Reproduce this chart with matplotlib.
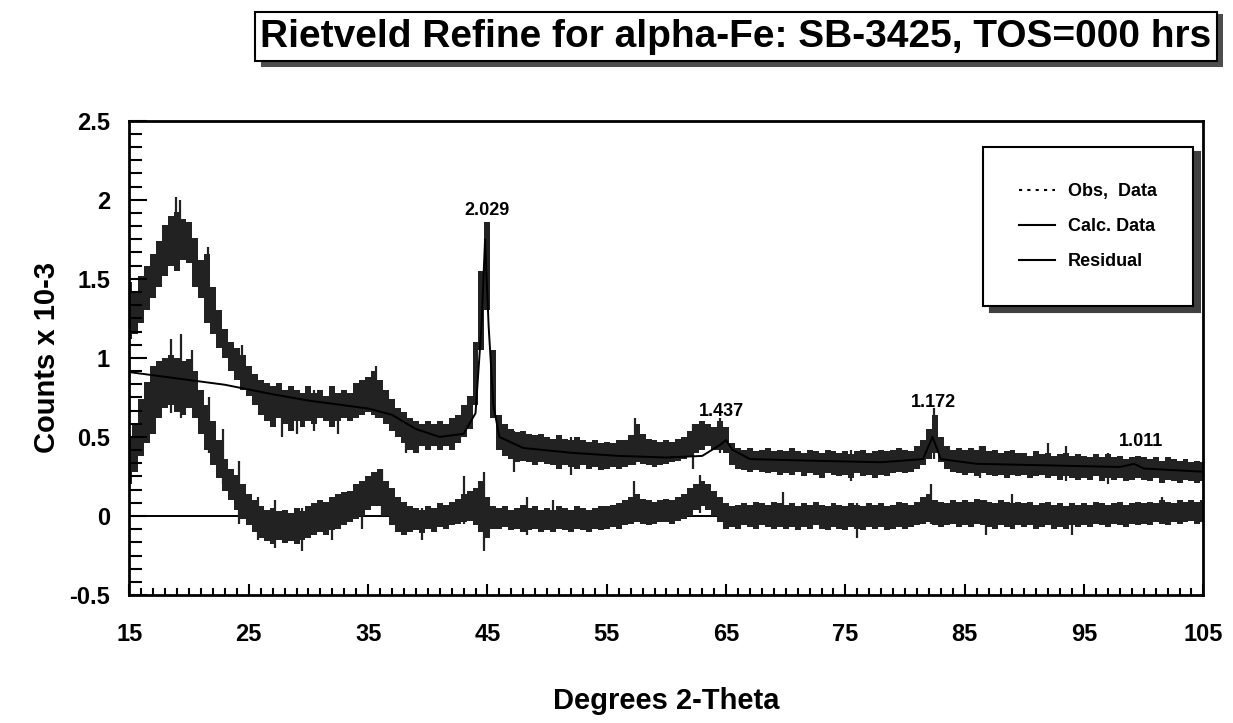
import numpy as np
import matplotlib
matplotlib.use("Agg")
import matplotlib.pyplot as plt
from matplotlib.patches import Rectangle
from matplotlib.lines import Line2D
from matplotlib.ticker import MultipleLocator

plt.rcParams['font.family'] = ['Liberation Sans', 'DejaVu Sans']

# ---------------- data ----------------
two_theta = np.arange(15.0, 105.01, 0.5)

obs_hi = [1.48, 1.42, 1.52, 1.58, 1.66, 1.74, 1.84, 1.90, 1.92, 1.88,
          1.86, 1.76, 1.62, 1.66, 1.45, 1.30, 1.18, 1.10, 1.06, 1.02,
          0.95, 0.90, 0.86, 0.84, 0.82, 0.84, 0.80, 0.82, 0.80, 0.78,
          0.82, 0.78, 0.80, 0.76, 0.82, 0.78, 0.80, 0.78, 0.84, 0.86,
          0.88, 0.92, 0.86, 0.80, 0.74, 0.68, 0.66, 0.62, 0.60, 0.58,
          0.60, 0.58, 0.60, 0.58, 0.62, 0.64, 0.70, 0.76, 1.10, 1.55,
          1.86, 1.05, 0.64, 0.58, 0.55, 0.53, 0.54, 0.52, 0.51, 0.52,
          0.50, 0.49, 0.51, 0.49, 0.48, 0.50, 0.48, 0.47, 0.48, 0.46,
          0.47, 0.46, 0.48, 0.48, 0.51, 0.58, 0.52, 0.49, 0.48, 0.47,
          0.48, 0.47, 0.49, 0.50, 0.54, 0.58, 0.60, 0.58, 0.56, 0.60,
          0.56, 0.46, 0.43, 0.42, 0.43, 0.41, 0.42, 0.43, 0.41, 0.42,
          0.41, 0.43, 0.41, 0.40, 0.42, 0.41, 0.40, 0.42, 0.41, 0.40,
          0.41, 0.39, 0.41, 0.42, 0.40, 0.41, 0.42, 0.41, 0.42, 0.43,
          0.42, 0.41, 0.44, 0.48, 0.55, 0.64, 0.50, 0.44, 0.42, 0.43,
          0.42, 0.43, 0.42, 0.44, 0.41, 0.42, 0.40, 0.41, 0.42, 0.40,
          0.40, 0.38, 0.41, 0.39, 0.40, 0.38, 0.39, 0.40, 0.38, 0.39,
          0.38, 0.37, 0.39, 0.37, 0.39, 0.37, 0.38, 0.36, 0.37, 0.38,
          0.37, 0.36, 0.37, 0.35, 0.37, 0.36, 0.35, 0.36, 0.34, 0.35,
          0.34]

obs_lo = [1.12, 1.15, 1.22, 1.30, 1.38, 1.45, 1.52, 1.58, 1.55, 1.62,
          1.60, 1.45, 1.38, 1.22, 1.15, 1.06, 1.00, 0.92, 0.86, 0.80,
          0.76, 0.70, 0.64, 0.60, 0.56, 0.62, 0.58, 0.54, 0.60, 0.56,
          0.60, 0.58, 0.62, 0.60, 0.56, 0.60, 0.62, 0.60, 0.62, 0.64,
          0.66, 0.64, 0.62, 0.58, 0.54, 0.50, 0.46, 0.42, 0.40, 0.44,
          0.42, 0.44, 0.42, 0.44, 0.42, 0.46, 0.50, 0.55, 0.70, 1.05,
          1.30, 0.62, 0.42, 0.38, 0.36, 0.34, 0.35, 0.34, 0.32, 0.34,
          0.33, 0.32, 0.30, 0.32, 0.31, 0.30, 0.32, 0.30, 0.31, 0.29,
          0.30, 0.31, 0.30, 0.31, 0.32, 0.34, 0.33, 0.32, 0.31, 0.32,
          0.33, 0.34, 0.35, 0.36, 0.38, 0.40, 0.42, 0.44, 0.42, 0.42,
          0.40, 0.32, 0.30, 0.29, 0.28, 0.29, 0.28, 0.27, 0.28, 0.26,
          0.27, 0.26, 0.28, 0.25, 0.27, 0.26, 0.24, 0.27, 0.26, 0.25,
          0.26, 0.24, 0.27, 0.25, 0.26, 0.24, 0.26, 0.25, 0.27, 0.28,
          0.27, 0.28, 0.30, 0.32, 0.36, 0.40, 0.34, 0.30, 0.28, 0.27,
          0.26, 0.27, 0.25, 0.27, 0.26, 0.25, 0.26, 0.24, 0.26, 0.25,
          0.26, 0.24, 0.25, 0.26, 0.24, 0.25, 0.23, 0.25, 0.24, 0.23,
          0.24, 0.23, 0.25, 0.22, 0.24, 0.23, 0.24, 0.22, 0.23, 0.24,
          0.23, 0.22, 0.24, 0.21, 0.23, 0.22, 0.21, 0.23, 0.22, 0.21,
          0.22]

res_hi = [0.50, 0.58, 0.74, 0.85, 0.95, 0.98, 1.00, 1.02, 1.00, 0.98,
          0.99, 0.92, 0.80, 0.70, 0.60, 0.48, 0.36, 0.30, 0.26, 0.20,
          0.14, 0.10, 0.06, 0.04, 0.05, 0.03, 0.04, 0.02, 0.05, 0.03,
          0.06, 0.08, 0.10, 0.09, 0.12, 0.14, 0.15, 0.16, 0.20, 0.22,
          0.25, 0.28, 0.30, 0.22, 0.18, 0.12, 0.09, 0.06, 0.05, 0.04,
          0.06, 0.05, 0.08, 0.07, 0.09, 0.11, 0.14, 0.16, 0.18, 0.22,
          0.12, 0.06, 0.05, 0.06, 0.04, 0.05, 0.07, 0.05, 0.06, 0.04,
          0.05, 0.04, 0.06, 0.05, 0.04, 0.06, 0.05, 0.04, 0.05, 0.06,
          0.06, 0.07, 0.08, 0.10, 0.12, 0.14, 0.11, 0.10, 0.09, 0.10,
          0.11, 0.10, 0.12, 0.14, 0.18, 0.20, 0.22, 0.20, 0.16, 0.12,
          0.08, 0.06, 0.07, 0.08, 0.07, 0.09, 0.08, 0.07, 0.09, 0.08,
          0.07, 0.08, 0.06, 0.08, 0.07, 0.09, 0.07, 0.06, 0.08, 0.07,
          0.06, 0.08, 0.07, 0.06, 0.08, 0.07, 0.08, 0.06, 0.07, 0.09,
          0.08, 0.07, 0.09, 0.12, 0.14, 0.10, 0.09, 0.08, 0.10, 0.09,
          0.10, 0.09, 0.11, 0.10, 0.09, 0.08, 0.10, 0.09, 0.08, 0.09,
          0.08, 0.09, 0.07, 0.08, 0.09, 0.07, 0.08, 0.06, 0.08, 0.07,
          0.08, 0.07, 0.09, 0.08, 0.07, 0.08, 0.09, 0.07, 0.08, 0.09,
          0.08, 0.09, 0.08, 0.10, 0.09, 0.08, 0.10, 0.09, 0.10, 0.09,
          0.10]

res_lo = [0.20, 0.28, 0.38, 0.46, 0.52, 0.62, 0.68, 0.70, 0.66, 0.64,
          0.68, 0.62, 0.52, 0.42, 0.32, 0.24, 0.16, 0.10, 0.04, -0.02,
          -0.06, -0.10, -0.14, -0.16, -0.18, -0.15, -0.17, -0.16, -0.18, -0.15,
          -0.14, -0.12, -0.10, -0.12, -0.09, -0.08, -0.06, -0.04, -0.02, 0.00,
          0.04, 0.06, 0.06, 0.00, -0.06, -0.10, -0.12, -0.10, -0.09, -0.11,
          -0.08, -0.10, -0.07, -0.08, -0.06, -0.05, -0.04, -0.03, -0.06, -0.10,
          -0.14, -0.08, -0.08, -0.07, -0.09, -0.08, -0.10, -0.09, -0.08, -0.10,
          -0.09, -0.10, -0.08, -0.09, -0.10, -0.08, -0.09, -0.10, -0.08, -0.09,
          -0.08, -0.07, -0.08, -0.06, -0.05, -0.04, -0.05, -0.06, -0.05, -0.04,
          -0.04, -0.05, -0.03, -0.02, 0.00, 0.04, 0.06, 0.04, 0.00, -0.04,
          -0.08, -0.07, -0.08, -0.06, -0.07, -0.08, -0.06, -0.07, -0.08, -0.07,
          -0.08, -0.07, -0.09, -0.07, -0.08, -0.06, -0.08, -0.09, -0.07, -0.08,
          -0.09, -0.07, -0.08, -0.09, -0.07, -0.08, -0.07, -0.09, -0.08, -0.07,
          -0.08, -0.07, -0.06, -0.05, -0.04, -0.06, -0.07, -0.06, -0.05, -0.07,
          -0.06, -0.07, -0.05, -0.06, -0.07, -0.08, -0.06, -0.07, -0.08, -0.06,
          -0.07, -0.06, -0.08, -0.07, -0.06, -0.08, -0.07, -0.08, -0.06, -0.07,
          -0.06, -0.07, -0.05, -0.06, -0.07, -0.05, -0.06, -0.07, -0.05, -0.06,
          -0.05, -0.06, -0.04, -0.05, -0.06, -0.04, -0.05, -0.04, -0.03, -0.05,
          -0.04]

# calculated profile (background + Bragg peaks)
calc_x = [15, 17, 19, 21, 23, 25, 27, 30, 33, 35, 37, 39, 41, 43, 44, 44.5,
          44.8, 45.1, 45.5, 46, 48, 52, 56, 60, 63, 64.5, 65, 65.5, 67, 72,
          78, 81.5, 82.3, 83, 86, 92, 98, 99.2, 100, 105]
calc_y = [0.91, 0.89, 0.87, 0.85, 0.83, 0.80, 0.77, 0.73, 0.70, 0.68, 0.64,
          0.55, 0.50, 0.52, 0.65, 1.20, 1.75, 1.20, 0.70, 0.50, 0.43, 0.40,
          0.38, 0.37, 0.38, 0.45, 0.48, 0.42, 0.36, 0.35, 0.34, 0.36, 0.50,
          0.36, 0.33, 0.32, 0.31, 0.33, 0.30, 0.28]

# prominent noise spikes (x, low, high)
obs_spike_x = [18.9, 19.2, 21.6, 24.4, 27.8, 29.0, 30.5, 32.5, 35.7, 38.2,
               47.2, 52.0, 57.4, 62.2, 64.5, 75.5, 82.4, 86.3, 92.0, 93.5, 97.0]
obs_spike_lo = [1.70, 1.75, 1.40, 0.85, 0.50, 0.52, 0.54, 0.52, 0.62, 0.40,
                0.28, 0.26, 0.32, 0.30, 0.40, 0.22, 0.36, 0.24, 0.24, 0.22, 0.20]
obs_spike_hi = [2.02, 2.00, 1.70, 1.08, 0.80, 0.76, 0.80, 0.78, 0.95, 0.62,
                0.54, 0.50, 0.62, 0.58, 0.62, 0.42, 0.68, 0.44, 0.46, 0.44, 0.40]

res_spike_x = [18.5, 19.3, 20.2, 21.7, 22.8, 24.2, 25.8, 27.2, 29.5, 32.0,
               34.5, 36.2, 39.5, 43.0, 44.7, 48.3, 50.5, 57.3, 62.8, 69.8,
               76.0, 82.2, 86.8, 89.0, 94.0, 101.5]
res_spike_lo = [0.65, 0.62, 0.70, 0.40, 0.20, -0.05, -0.15, -0.20, -0.22, -0.15,
                -0.08, 0.00, -0.15, -0.05, -0.22, -0.12, -0.10, -0.02, 0.02, -0.05,
                -0.14, -0.05, -0.12, -0.08, -0.12, -0.05]
res_spike_hi = [1.12, 1.15, 1.05, 0.75, 0.55, 0.35, 0.12, 0.10, 0.05, 0.12,
                0.22, 0.30, 0.05, 0.25, 0.28, 0.12, 0.10, 0.22, 0.26, 0.15,
                0.08, 0.20, 0.10, 0.14, 0.08, 0.12]

# d-spacing labels
peak_labels = ["2.029", "1.437", "1.172", "1.011"]
peak_label_x = [45.0, 64.6, 82.4, 99.8]
peak_label_y = [1.93, 0.66, 0.72, 0.47]

x_ticks = [15, 25, 35, 45, 55, 65, 75, 85, 95, 105]
y_ticks = [-0.5, 0, 0.5, 1, 1.5, 2, 2.5]
y_tick_labels = ["-0.5", "0", "0.5", "1", "1.5", "2", "2.5"]

# ---------------- figure ----------------
fig = plt.figure(figsize=(12.33, 7.23), dpi=100)
ax = fig.add_axes([0.105, 0.177, 0.871, 0.656])

band_col = '#222222'
ax.fill_between(two_theta, obs_lo, obs_hi, step='mid', color=band_col, lw=0)
ax.fill_between(two_theta, res_lo, res_hi, step='mid', color=band_col, lw=0)
ax.vlines(obs_spike_x, obs_spike_lo, obs_spike_hi, color=band_col, lw=1.6)
ax.vlines(res_spike_x, res_spike_lo, res_spike_hi, color=band_col, lw=1.6)
ax.plot(calc_x, calc_y, color='black', lw=1.4)
ax.axhline(0, color='black', lw=1.4, zorder=0)

for t, px, py in zip(peak_labels, peak_label_x, peak_label_y):
    ax.text(px, py, t, ha='center', va='center', fontsize=13, fontweight='bold')

ax.set_xlim(15, 105)
ax.set_ylim(-0.5, 2.5)
ax.set_xticks(x_ticks)
ax.set_yticks(y_ticks)
ax.set_yticklabels(y_tick_labels)
ax.xaxis.set_minor_locator(MultipleLocator(1))
ax.yaxis.set_minor_locator(MultipleLocator(0.5 / 6))
ax.tick_params(axis='both', which='both', direction='in', color='black',
               labelsize=17, width=1.5)
ax.tick_params(axis='x', which='major', length=8, pad=20)
ax.tick_params(axis='x', which='minor', length=5)
ax.tick_params(axis='y', which='major', length=13, pad=14)
ax.tick_params(axis='y', which='minor', length=9)
for lab in ax.get_xticklabels() + ax.get_yticklabels():
    lab.set_fontweight('bold')
for s in ax.spines.values():
    s.set_linewidth(2)
    s.set_color('black')

ax.set_xlabel("Degrees 2-Theta", fontsize=21, fontweight='bold', labelpad=30)
ax.set_ylabel("Counts x 10-3", fontsize=21, fontweight='bold', labelpad=6)

handles = [Line2D([], [], color='black', ls=(0, (1.5, 2.5)), lw=1.5),
           Line2D([], [], color='black', ls='-', lw=1.5),
           Line2D([], [], color='black', ls='-', lw=1.5)]
leg = ax.legend(handles, ["Obs,  Data", "Calc. Data", "Residual"],
                loc='upper right', bbox_to_anchor=(0.99, 0.945),
                prop={'size': 13, 'weight': 'bold'}, frameon=True, fancybox=False,
                shadow={'color': '0.25', 'alpha': 1, 'ox': 5, 'oy': -4},
                handlelength=2.0, handletextpad=0.7, labelspacing=1.0,
                borderpad=2.0, borderaxespad=0)
leg.get_frame().set_edgecolor('black')
leg.get_frame().set_linewidth(1.5)

# title box with shadow
fig.patches.append(Rectangle((0.212, 0.908), 0.780, 0.072, transform=fig.transFigure,
                             facecolor='0.3', edgecolor='none', zorder=1))
fig.patches.append(Rectangle((0.207, 0.915), 0.780, 0.069, transform=fig.transFigure,
                             facecolor='white', edgecolor='black', lw=1.5, zorder=2))
fig.text(0.597, 0.949, "Rietveld Refine for alpha-Fe: SB-3425, TOS=000 hrs",
         ha='center', va='center', fontsize=28, fontweight='bold', zorder=3)

fig.savefig("out.png", dpi=100)
